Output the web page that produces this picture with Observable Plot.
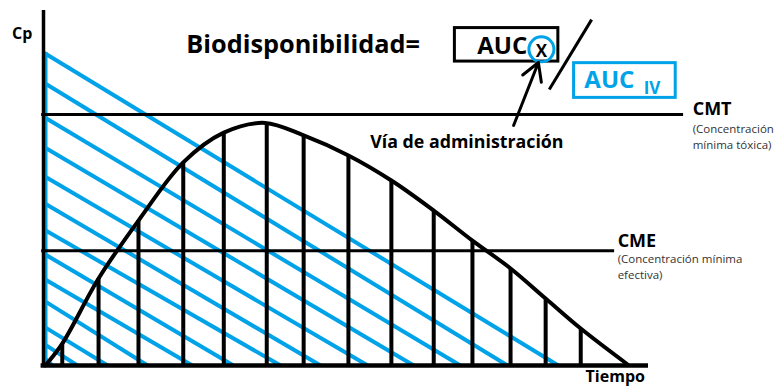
<!DOCTYPE html>
<html>
<head>
<meta charset="utf-8">
<script src="https://cdn.jsdelivr.net/npm/d3@7"></script>
<script src="https://cdn.jsdelivr.net/npm/@observablehq/plot@0.6"></script>
<style>
  html, body { margin: 0; padding: 0; background: #fff; }
  svg { display: block; }
</style>
</head>
<body>
<div id="chart"></div>
<script>
// ---- Data (time on x, plasma concentration Cp on y; arbitrary units) ----
// Oral (extravascular) curve
const curveTime = [0.3, 3.1, 9.1, 15.7, 23.1, 29.8, 36.6, 43.0, 50.4, 57.5, 64.5, 70.9, 77.2, 83.0, 88.8, 96.5];
const curveCp   = [0,   7.0, 27.8, 46.3, 64.9, 74.4, 77.5, 73.5, 67.1, 59.1, 49.5, 39.9, 31.0, 21.4, 11.8, 0.4];

// vertical hatch lines under the oral curve
const barTime = [3.1, 9.1, 15.7, 23.1, 29.8, 36.9, 43.0, 50.4, 57.5, 64.5, 70.9, 77.2, 83.0, 88.8];
const barCp   = [7.0, 27.8, 46.3, 64.9, 74.4, 77.3, 73.5, 67.1, 59.1, 49.5, 39.9, 31.0, 21.4, 11.8];

// IV triangle hatch: each line from (0, start Cp) to (end time, 0)
const ivStartCp  = [100, 90.4, 79.5, 69.9, 60.6, 52.0, 43.5, 35.8, 27.8, 20.8, 12.5, 7.0, 2.6];
const ivEndTime  = [85.1, 76.7, 68.9, 61.2, 53.6, 45.8, 39.2, 31.4, 24.6, 17.2, 10.6, 5.6, 1.5];

// reference levels
const levelNames = ["CMT", "CME"];
const levelCp    = [80.2, 36.7];
const levelEnd   = [105.8, 94.4];

const BLUE = "#00A2E8";

const bars = barTime.map((t, i) => ({t, cp: barCp[i]}));
const curve = curveTime.map((t, i) => ({t, cp: curveCp[i]}));
const hatch = ivStartCp.map((c, i) => ({c, t: ivEndTime[i]}));
const levels = levelNames.map((n, i) => ({n, cp: levelCp[i], end: levelEnd[i]}));

const bold = (text, x, y, size, fill = "#000") => Plot.text([text], {
  x: () => x, y: () => y, text: d => d, textAnchor: "start", lineAnchor: "bottom",
  fontSize: size, fontWeight: "bold", fill
});
const small = (text, x, y) => Plot.text([text], {
  x: () => x, y: () => y, text: d => d, textAnchor: "start", lineAnchor: "bottom",
  fontSize: 11.5, fill: "#333"
});

const chart = Plot.plot({
  width: 779,
  height: 387,
  margin: 0,
  style: {fontFamily: "'Open Sans', sans-serif", background: "#fff", overflow: "visible"},
  x: {domain: [0, 100], range: [43, 648], axis: null},
  y: {domain: [0, 100], range: [365, 52], axis: null},
  marks: [
    // IV area hatch (blue)
    Plot.link(hatch, {x1: () => 0, y1: "c", x2: "t", y2: () => 0, stroke: BLUE, strokeWidth: 4}),
    Plot.ruleX([0], {y1: 0, y2: 100, stroke: BLUE, strokeWidth: 3, dx: 2.5}),
    // reference levels
    Plot.ruleY(levels, {y: "cp", x1: () => -0.3, x2: "end", stroke: "#000", strokeWidth: 3}),
    // oral curve hatch + curve
    Plot.ruleX(bars, {x: "t", y1: 0, y2: "cp", stroke: "#000", strokeWidth: 4}),
    Plot.line(curve, {x: "t", y: "cp", curve: "catmull-rom", stroke: "#000", strokeWidth: 4}),
    // axes
    Plot.ruleX([0], {y1: -0.6, y2: 113.4, stroke: "#000", strokeWidth: 3.5}),
    Plot.ruleY([0], {x1: -0.4, x2: 100, stroke: "#000", strokeWidth: 4.5}),
    // labels
    bold("Cp", -5.2, 104.2, 16),
    bold("Tiempo", 89.6, -5.3, 16),
    bold("Biodisponibilidad=", 23.6, 99.7, 25.3),
    // AUC x box
    Plot.rect([0], {x1: () => 68.0, x2: () => 85.1, y1: () => 97.1, y2: () => 107.8, fill: "none", stroke: "#000", strokeWidth: 3}),
    bold("AUC", 71.7, 99.4, 24),
    Plot.dot([0], {x: () => 82.3, y: () => 101.0, r: 12.5, stroke: BLUE, strokeWidth: 3, fill: "none"}),
    Plot.text(["X"], {x: () => 82.3, y: () => 100.3, text: d => d, fontSize: 17, fontWeight: "bold", fill: "#000"}),
    // division slash
    Plot.link([0], {x1: () => 90.6, y1: () => 110.5, x2: () => 83.6, y2: () => 88.2, stroke: "#000", strokeWidth: 3}),
    // AUC IV box
    Plot.rect([0], {x1: () => 87.7, x2: () => 104.5, y1: () => 85.5, y2: () => 96.6, fill: "none", stroke: BLUE, strokeWidth: 3}),
    bold("AUC", 89.4, 88.5, 24, BLUE),
    bold("IV", 99.2, 86.9, 17, BLUE),
    // arrow
    Plot.arrow([0], {x1: () => 77.7, y1: () => 76.7, x2: () => 81.8, y2: () => 96.8, stroke: "#000", strokeWidth: 3, headLength: 10}),
    bold("Vía de administración", 54.0, 69.6, 17.8),
    // level labels
    bold("CMT", 107.3, 79.9, 18),
    small("(Concentración", 107.3, 74.3),
    small("mínima tóxica)", 107.3, 69.1),
    bold("CME", 94.9, 37.7, 18),
    small("(Concentración mínima", 94.9, 32.8),
    small("efectiva)", 94.9, 27.6)
  ]
});
document.getElementById("chart").appendChild(chart);
</script>
</body>
</html>
